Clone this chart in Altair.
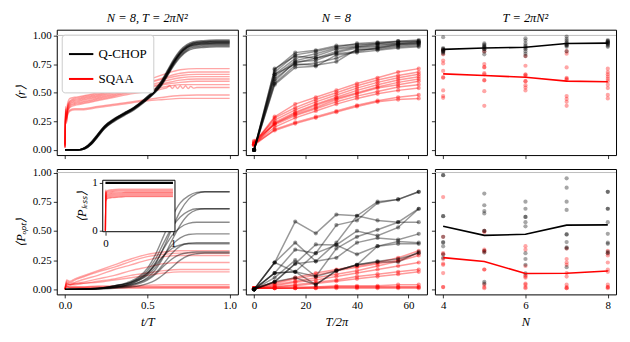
import altair as alt
import pandas as pd

# ======================= DATA =======================
METHODS = ["Q-CHOP", "SQAA"]
REF_LEVEL = [1.0]

# ---- column 1, top: <r> vs t/T (N = 8, T = 2 pi N^2) ----
T1_QCHOP = [0, 0.08, 0.12, 0.16, 0.20, 0.24, 0.30, 0.36, 0.42, 0.48, 0.54, 0.58, 0.62, 0.66, 0.70, 0.74, 0.78, 0.84, 0.92, 1.0]
R1_QCHOP = [
    [0, 0, 0.02, 0.07, 0.14, 0.21, 0.27, 0.32, 0.37, 0.44, 0.52, 0.59, 0.69, 0.79, 0.87, 0.92, 0.945, 0.955, 0.96, 0.96],
    [0, 0, 0.015, 0.06, 0.13, 0.20, 0.265, 0.315, 0.365, 0.43, 0.51, 0.58, 0.68, 0.78, 0.86, 0.91, 0.935, 0.945, 0.95, 0.95],
    [0, 0, 0.01, 0.05, 0.12, 0.19, 0.26, 0.31, 0.36, 0.42, 0.50, 0.56, 0.66, 0.76, 0.85, 0.905, 0.935, 0.945, 0.95, 0.95],
    [0, 0, 0.02, 0.065, 0.135, 0.205, 0.27, 0.32, 0.37, 0.435, 0.51, 0.575, 0.67, 0.77, 0.85, 0.90, 0.925, 0.935, 0.94, 0.94],
    [0, 0, 0.012, 0.055, 0.125, 0.195, 0.26, 0.31, 0.36, 0.425, 0.50, 0.565, 0.66, 0.76, 0.84, 0.895, 0.925, 0.935, 0.94, 0.94],
    [0, 0, 0.018, 0.06, 0.13, 0.20, 0.27, 0.32, 0.37, 0.43, 0.505, 0.57, 0.665, 0.765, 0.84, 0.89, 0.915, 0.925, 0.93, 0.93],
    [0, 0, 0.01, 0.05, 0.12, 0.19, 0.255, 0.305, 0.355, 0.42, 0.495, 0.56, 0.65, 0.75, 0.83, 0.88, 0.905, 0.915, 0.92, 0.92],
    [0, 0, 0.015, 0.06, 0.13, 0.20, 0.265, 0.315, 0.365, 0.43, 0.50, 0.56, 0.65, 0.745, 0.82, 0.87, 0.895, 0.905, 0.91, 0.91],
    [0, 0, 0.02, 0.07, 0.14, 0.21, 0.275, 0.325, 0.375, 0.44, 0.52, 0.585, 0.675, 0.77, 0.845, 0.895, 0.915, 0.925, 0.93, 0.93],
    [0, 0, 0.01, 0.05, 0.115, 0.185, 0.25, 0.30, 0.35, 0.415, 0.49, 0.55, 0.64, 0.735, 0.81, 0.86, 0.885, 0.895, 0.90, 0.90],
]
T1_SQAA = [0, 0.003, 0.008, 0.015, 0.03, 0.06, 0.1, 0.2, 0.3, 0.4, 0.5, 0.6, 0.7, 0.8, 0.9, 1.0]
R1_SQAA = [
    [0.03, 0.38, 0.30, 0.40, 0.45, 0.46, 0.47, 0.50, 0.54, 0.58, 0.61, 0.66, 0.70, 0.71, 0.71, 0.71],
    [0.05, 0.36, 0.28, 0.38, 0.43, 0.45, 0.46, 0.49, 0.52, 0.56, 0.59, 0.63, 0.67, 0.68, 0.68, 0.68],
    [0.02, 0.33, 0.27, 0.37, 0.42, 0.44, 0.45, 0.48, 0.51, 0.54, 0.58, 0.62, 0.65, 0.66, 0.66, 0.66],
    [0.04, 0.35, 0.29, 0.36, 0.41, 0.43, 0.44, 0.47, 0.50, 0.53, 0.56, 0.60, 0.63, 0.64, 0.64, 0.64],
    [0.03, 0.31, 0.26, 0.35, 0.40, 0.42, 0.43, 0.46, 0.49, 0.52, 0.55, 0.58, 0.61, 0.62, 0.62, 0.62],
    [0.05, 0.34, 0.28, 0.34, 0.39, 0.41, 0.42, 0.45, 0.48, 0.51, 0.54, 0.57, 0.59, 0.60, 0.60, 0.60],
    [0.02, 0.30, 0.25, 0.33, 0.38, 0.40, 0.41, 0.44, 0.47, 0.50, 0.52, 0.55, 0.57, 0.57, 0.57, 0.57],
    [0.03, 0.29, 0.24, 0.31, 0.35, 0.36, 0.36, 0.38, 0.40, 0.42, 0.44, 0.46, 0.475, 0.48, 0.48, 0.48],
    [0.02, 0.28, 0.23, 0.30, 0.34, 0.35, 0.35, 0.37, 0.39, 0.41, 0.43, 0.44, 0.45, 0.45, 0.45, 0.45],
]
T1_SQAA_WAVY = [0, 0.003, 0.008, 0.015, 0.03, 0.06, 0.1, 0.2, 0.3, 0.4, 0.5, 0.6, 0.62, 0.636, 0.652,
                0.668, 0.684, 0.70, 0.716, 0.732, 0.748, 0.764, 0.78, 0.80, 0.9, 1.0]
R1_SQAA_WAVY = [0.04, 0.32, 0.27, 0.33, 0.37, 0.39, 0.40, 0.43, 0.46, 0.49, 0.51, 0.535, 0.545, 0.56, 0.535,
                0.56, 0.535, 0.56, 0.535, 0.56, 0.535, 0.555, 0.54, 0.545, 0.545, 0.545]

# ---- column 1, bottom: <P_opt> vs t/T ----
T1B_QCHOP = [0, 0.1, 0.2, 0.3, 0.4, 0.45, 0.5, 0.55, 0.6, 0.65, 0.7, 0.75, 0.8, 0.85, 0.9, 1.0]
P1_QCHOP = [
    [0, 0.002, 0.01, 0.03, 0.07, 0.11, 0.18, 0.30, 0.46, 0.62, 0.74, 0.80, 0.83, 0.835, 0.835, 0.835],
    [0, 0.001, 0.005, 0.02, 0.05, 0.08, 0.13, 0.22, 0.36, 0.52, 0.67, 0.77, 0.82, 0.835, 0.835, 0.835],
    [0, 0.002, 0.008, 0.03, 0.06, 0.10, 0.16, 0.26, 0.40, 0.53, 0.62, 0.67, 0.69, 0.69, 0.69, 0.69],
    [0, 0.001, 0.004, 0.015, 0.04, 0.06, 0.10, 0.17, 0.28, 0.42, 0.55, 0.64, 0.68, 0.69, 0.69, 0.69],
    [0, 0.002, 0.01, 0.03, 0.06, 0.09, 0.14, 0.23, 0.35, 0.46, 0.53, 0.565, 0.575, 0.575, 0.575, 0.575],
    [0, 0.001, 0.006, 0.02, 0.05, 0.08, 0.12, 0.19, 0.29, 0.38, 0.44, 0.47, 0.475, 0.475, 0.475, 0.475],
    [0, 0.001, 0.005, 0.02, 0.04, 0.06, 0.09, 0.14, 0.22, 0.31, 0.37, 0.395, 0.40, 0.40, 0.40, 0.40],
    [0, 0.002, 0.01, 0.03, 0.06, 0.09, 0.14, 0.21, 0.29, 0.35, 0.38, 0.39, 0.39, 0.39, 0.39, 0.39],
    [0, 0.001, 0.005, 0.015, 0.03, 0.05, 0.08, 0.13, 0.20, 0.26, 0.30, 0.315, 0.32, 0.32, 0.32, 0.32],
    [0, 0.001, 0.004, 0.01, 0.02, 0.03, 0.05, 0.08, 0.13, 0.19, 0.25, 0.29, 0.305, 0.31, 0.31, 0.31],
]
T1B_SQAA = [0, 0.01, 0.03, 0.06, 0.1, 0.2, 0.3, 0.4, 0.5, 0.6, 0.7, 0.8, 0.9, 1.0]
P1_SQAA = [
    [0, 0.08, 0.07, 0.09, 0.11, 0.16, 0.21, 0.26, 0.30, 0.32, 0.33, 0.33, 0.33, 0.33],
    [0, 0.07, 0.06, 0.08, 0.10, 0.15, 0.19, 0.24, 0.28, 0.30, 0.31, 0.31, 0.31, 0.31],
    [0, 0.06, 0.05, 0.06, 0.08, 0.12, 0.17, 0.21, 0.25, 0.28, 0.29, 0.29, 0.29, 0.29],
    [0, 0.05, 0.04, 0.05, 0.06, 0.09, 0.12, 0.16, 0.19, 0.22, 0.23, 0.23, 0.23, 0.23],
    [0, 0.04, 0.04, 0.05, 0.05, 0.07, 0.09, 0.12, 0.14, 0.16, 0.17, 0.17, 0.17, 0.17],
    [0, 0.05, 0.04, 0.04, 0.05, 0.06, 0.08, 0.10, 0.12, 0.14, 0.15, 0.15, 0.15, 0.15],
    [0, 0.03, 0.02, 0.02, 0.02, 0.03, 0.03, 0.03, 0.035, 0.04, 0.04, 0.04, 0.04, 0.04],
    [0, 0.02, 0.015, 0.015, 0.015, 0.02, 0.02, 0.02, 0.02, 0.02, 0.02, 0.02, 0.02, 0.02],
    [0, 0.02, 0.01, 0.01, 0.01, 0.01, 0.01, 0.01, 0.01, 0.01, 0.01, 0.01, 0.01, 0.01],
    [0, 0.03, 0.02, 0.02, 0.02, 0.02, 0.02, 0.02, 0.02, 0.02, 0.02, 0.02, 0.02, 0.02],
]

# ---- inset: <P_less> vs t/T ----
TI_QCHOP = [0, 1.0]
PLESS_QCHOP = [[1.0, 1.0]]
TI_SQAA = [0, 0.005, 0.01, 0.02, 0.05, 0.1, 0.2, 0.3, 0.5, 0.7, 1.0]
PLESS_SQAA = [
    [0, 0.86, 0.80, 0.83, 0.85, 0.86, 0.87, 0.87, 0.87, 0.87, 0.87],
    [0, 0.84, 0.78, 0.81, 0.83, 0.84, 0.85, 0.85, 0.85, 0.85, 0.85],
    [0, 0.82, 0.76, 0.79, 0.81, 0.82, 0.83, 0.83, 0.83, 0.83, 0.83],
    [0, 0.80, 0.74, 0.77, 0.79, 0.80, 0.81, 0.81, 0.81, 0.81, 0.81],
    [0, 0.83, 0.72, 0.75, 0.77, 0.78, 0.79, 0.80, 0.80, 0.80, 0.80],
    [0, 0.78, 0.70, 0.73, 0.75, 0.76, 0.77, 0.78, 0.78, 0.78, 0.78],
    [0, 0.76, 0.68, 0.71, 0.73, 0.74, 0.75, 0.76, 0.76, 0.76, 0.76],
    [0, 0.80, 0.66, 0.69, 0.71, 0.72, 0.73, 0.74, 0.74, 0.74, 0.74],
    [0, 0.74, 0.64, 0.67, 0.69, 0.70, 0.71, 0.72, 0.72, 0.72, 0.72],
    [0, 0.72, 0.62, 0.66, 0.68, 0.69, 0.70, 0.71, 0.71, 0.71, 0.71],
]

# ---- column 2: vs T/2pi (N = 8) ----
T2 = [0, 8, 16, 24, 32, 40, 48, 56, 64]
R2_QCHOP = [
    [0, 0.70, 0.85, 0.87, 0.91, 0.92, 0.93, 0.95, 0.96],
    [0, 0.68, 0.83, 0.86, 0.90, 0.93, 0.94, 0.95, 0.95],
    [0, 0.66, 0.80, 0.84, 0.89, 0.91, 0.93, 0.94, 0.95],
    [0, 0.64, 0.78, 0.82, 0.88, 0.90, 0.92, 0.93, 0.94],
    [0, 0.62, 0.76, 0.80, 0.86, 0.90, 0.91, 0.93, 0.94],
    [0, 0.60, 0.77, 0.78, 0.85, 0.89, 0.90, 0.92, 0.93],
    [0, 0.58, 0.74, 0.76, 0.80, 0.87, 0.89, 0.91, 0.92],
    [0, 0.66, 0.75, 0.74, 0.77, 0.88, 0.88, 0.90, 0.91],
    [0, 0.71, 0.82, 0.80, 0.84, 0.86, 0.89, 0.92, 0.93],
    [0, 0.57, 0.72, 0.73, 0.83, 0.85, 0.87, 0.89, 0.90],
]
R2_SQAA = [
    [0.06, 0.29, 0.40, 0.46, 0.52, 0.58, 0.63, 0.68, 0.71],
    [0.05, 0.28, 0.37, 0.44, 0.50, 0.56, 0.61, 0.65, 0.68],
    [0.07, 0.26, 0.35, 0.42, 0.48, 0.54, 0.59, 0.63, 0.66],
    [0.05, 0.24, 0.33, 0.40, 0.46, 0.52, 0.57, 0.61, 0.64],
    [0.04, 0.23, 0.32, 0.39, 0.45, 0.50, 0.55, 0.59, 0.62],
    [0.06, 0.23, 0.31, 0.37, 0.44, 0.49, 0.54, 0.57, 0.60],
    [0.08, 0.22, 0.30, 0.36, 0.42, 0.47, 0.51, 0.55, 0.57],
    [0.05, 0.20, 0.28, 0.34, 0.40, 0.45, 0.49, 0.52, 0.54],
    [0.04, 0.18, 0.24, 0.29, 0.34, 0.39, 0.43, 0.46, 0.48],
    [0.05, 0.17, 0.23, 0.28, 0.33, 0.38, 0.42, 0.44, 0.45],
]
P2_QCHOP = [
    [0, 0.23, 0.58, 0.48, 0.64, 0.63, 0.75, 0.77, 0.835],
    [0, 0.14, 0.34, 0.31, 0.55, 0.59, 0.74, 0.77, 0.835],
    [0, 0.23, 0.40, 0.24, 0.40, 0.63, 0.59, 0.575, 0.69],
    [0, 0.065, 0.22, 0.385, 0.38, 0.50, 0.46, 0.53, 0.69],
    [0, 0.14, 0.15, 0.11, 0.35, 0.45, 0.51, 0.575, 0.575],
    [0, 0.065, 0.22, 0.24, 0.27, 0.40, 0.44, 0.425, 0.475],
    [0, 0.14, 0.15, 0.31, 0.38, 0.30, 0.37, 0.41, 0.40],
    [0, 0.10, 0.25, 0.11, 0.16, 0.21, 0.37, 0.39, 0.39],
    [0, 0.23, 0.15, 0.04, 0.16, 0.21, 0.235, 0.235, 0.32],
    [0, 0.065, 0.10, 0.04, 0.16, 0.21, 0.24, 0.26, 0.31],
]
P2_SQAA = [
    [0.01, 0.06, 0.10, 0.14, 0.17, 0.20, 0.23, 0.27, 0.33],
    [0.01, 0.05, 0.09, 0.12, 0.16, 0.19, 0.22, 0.25, 0.31],
    [0.01, 0.04, 0.07, 0.10, 0.13, 0.16, 0.20, 0.24, 0.29],
    [0.01, 0.03, 0.06, 0.08, 0.11, 0.14, 0.17, 0.20, 0.23],
    [0.01, 0.02, 0.04, 0.06, 0.08, 0.11, 0.13, 0.15, 0.17],
    [0.01, 0.02, 0.03, 0.05, 0.07, 0.09, 0.11, 0.13, 0.15],
    [0.01, 0.01, 0.02, 0.02, 0.03, 0.03, 0.03, 0.04, 0.04],
    [0.01, 0.01, 0.01, 0.02, 0.02, 0.02, 0.02, 0.02, 0.02],
    [0.01, 0.01, 0.01, 0.01, 0.01, 0.01, 0.01, 0.01, 0.01],
    [0.01, 0.01, 0.01, 0.01, 0.02, 0.02, 0.02, 0.02, 0.02],
]

# ---- column 3: vs N (T = 2 pi N^2) ----
N3 = [4, 5, 6, 7, 8]
R3_QCHOP = [
    [0.985, 0.89, 0.88, 0.88, 0.87, 0.87, 0.86, 0.85, 0.84, 0.86],
    [0.93, 0.92, 0.91, 0.90, 0.90, 0.89, 0.88, 0.88, 0.86, 0.835],
    [0.975, 0.955, 0.93, 0.91, 0.90, 0.89, 0.88, 0.86, 0.84, 0.82],
    [0.99, 0.97, 0.955, 0.94, 0.93, 0.92, 0.915, 0.91, 0.90, 0.86],
    [0.96, 0.95, 0.95, 0.94, 0.94, 0.93, 0.92, 0.91, 0.93, 0.90],
]
R3_SQAA = [
    [0.87, 0.835, 0.78, 0.755, 0.69, 0.635, 0.63, 0.52, 0.47, 0.455],
    [0.86, 0.75, 0.725, 0.72, 0.67, 0.66, 0.607, 0.61, 0.513, 0.385],
    [0.82, 0.735, 0.66, 0.655, 0.645, 0.60, 0.565, 0.545, 0.52, 0.60],
    [0.863, 0.84, 0.72, 0.63, 0.62, 0.615, 0.47, 0.445, 0.42, 0.385],
    [0.71, 0.68, 0.66, 0.64, 0.62, 0.60, 0.57, 0.54, 0.48, 0.45],
]
P3_QCHOP = [
    [0.977, 0.977, 0.626, 0.626, 0.45, 0.405, 0.40, 0.368, 0.30, 0.27],
    [0.82, 0.72, 0.67, 0.65, 0.50, 0.50, 0.33, 0.315, 0.065, 0.05],
    [0.75, 0.69, 0.62, 0.62, 0.575, 0.54, 0.31, 0.26, 0.21, 0.136],
    [0.95, 0.87, 0.75, 0.68, 0.47, 0.47, 0.405, 0.36, 0.35, 0.19],
    [0.835, 0.835, 0.69, 0.69, 0.575, 0.475, 0.40, 0.39, 0.32, 0.31],
]
P3_SQAA = [
    [0.79, 0.45, 0.31, 0.30, 0.26, 0.22, 0.21, 0.14, 0.02, 0.02],
    [0.50, 0.49, 0.34, 0.33, 0.32, 0.17, 0.17, 0.04, 0.02, 0.01],
    [0.37, 0.34, 0.20, 0.12, 0.10, 0.11, 0.05, 0.04, 0.02, 0.01],
    [0.35, 0.26, 0.23, 0.21, 0.14, 0.11, 0.04, 0.02, 0.01, 0.01],
    [0.33, 0.31, 0.29, 0.23, 0.17, 0.15, 0.04, 0.02, 0.01, 0.02],
]

Y_TICKS = [0, 0.25, 0.5, 0.75, 1.0]
X1_TICKS = [0, 0.5, 1.0]
X2_TICKS = [0, 20, 40, 60]
X3_TICKS = [4, 6, 8]
INSET_TICKS = [0, 1]
TITLES = ["N = 8, T = 2πN²", "N = 8", "T = 2πN²"]

# ======================= STYLE / LAYOUT =======================
SERIF = "Liberation Serif"
W, H = 182, 126
BLACK, RED, GREY = "#000000", "#ff0000", "#bdbdbd"
INSET_XLIM, INSET_XRANGE = [-0.04, 1.03], [46.2, 118.8]
INSET_YLIM, INSET_YRANGE = [-0.02, 1.055], [63.0, 11.3]


def curve_df(t, curves, method, tag):
    rows = []
    for i, ys in enumerate(curves):
        for a, b in zip(t, ys):
            rows.append({"t": a, "v": b, "run": f"{tag}{i}", "method": method})
    return pd.DataFrame(rows)


def scatter_df(ns, groups, method):
    rows = []
    for n, vals in zip(ns, groups):
        for v in vals:
            rows.append({"t": n, "v": v, "method": method})
    return pd.DataFrame(rows)


color_scale = alt.Scale(domain=METHODS, range=[BLACK, RED])
YS_TOP = alt.Scale(domain=[-0.045, 1.05], nice=False, zero=False)
YS_BOT = alt.Scale(domain=[-0.043, 1.03], nice=False, zero=False)
XS = [alt.Scale(domain=[-0.05, 1.05], nice=False, zero=False),
      alt.Scale(domain=[-3.2, 67.2], nice=False, zero=False),
      alt.Scale(domain=[3.8, 8.2], nice=False, zero=False)]
XT = [(X1_TICKS, ".1f", "t/T"), (X2_TICKS, "d", "T/2π"), (X3_TICKS, "d", "N")]


def x_axis(col, bottom):
    vals, fmt, title = XT[col]
    if bottom:
        return alt.Axis(values=vals, format=fmt, title=title)
    return alt.Axis(values=vals, labels=False, title=None)


def y_axis(col, title):
    if col == 0:
        return alt.Axis(values=Y_TICKS, format=".2f", title=title)
    return alt.Axis(values=Y_TICKS, labels=False, title=None)


def ref_rule(ys, ya):
    return alt.Chart(pd.DataFrame({"v": REF_LEVEL})).mark_rule(color=GREY, strokeWidth=1).encode(
        y=alt.Y("v:Q", scale=ys, axis=ya))


legend = alt.Legend(title=None, orient="top-left", offset=5, symbolType="stroke", symbolStrokeWidth=2,
                    symbolSize=600, symbolOpacity=1, labelFont=SERIF, labelFontSize=13,
                    fillColor="white", strokeColor="#cccccc", padding=6, cornerRadius=3, rowPadding=4)


def col1_layers(df_b, df_r, ys, ya, xa, with_legend, black_opacity):
    enc = dict(x=alt.X("t:Q", scale=XS[0], axis=xa), y=alt.Y("v:Q", scale=ys, axis=ya), detail="run:N")
    if with_legend:
        col = alt.Color("method:N", scale=color_scale, legend=legend)
        red = alt.Chart(df_r).mark_line(strokeWidth=1.4, opacity=0.35, interpolate="monotone").encode(color=col, **enc)
        blk = alt.Chart(df_b).mark_line(strokeWidth=1.4, opacity=black_opacity, interpolate="monotone").encode(color=col, **enc)
    else:
        red = alt.Chart(df_r).mark_line(color=RED, strokeWidth=1.4, opacity=0.35, interpolate="monotone").encode(**enc)
        blk = alt.Chart(df_b).mark_line(color=BLACK, strokeWidth=1.4, opacity=black_opacity, interpolate="monotone").encode(**enc)
    return alt.layer(ref_rule(ys, ya), red, blk)


def col2_panel(df_b, df_r, ys, ya, xa):
    enc = dict(x=alt.X("t:Q", scale=XS[1], axis=xa), y=alt.Y("v:Q", scale=ys, axis=ya))
    layers = [ref_rule(ys, ya)]
    for df, c in ((df_r, RED), (df_b, BLACK)):
        layers.append(alt.Chart(df).mark_line(color=c, strokeWidth=1.5, opacity=0.4).encode(detail="run:N", **enc))
        layers.append(alt.Chart(df).mark_circle(color=c, size=18, opacity=0.4).encode(**enc))
    return alt.layer(*layers)


def col3_panel(df_b, df_r, ys, ya, xa):
    x = alt.X("t:Q", scale=XS[2], axis=xa)
    layers = [ref_rule(ys, ya)]
    for df, c in ((df_r, RED), (df_b, BLACK)):
        layers.append(alt.Chart(df).mark_circle(color=c, size=18, opacity=0.35).encode(
            x=x, y=alt.Y("v:Q", scale=ys, axis=ya)))
    for df, c in ((df_r, RED), (df_b, BLACK)):
        layers.append(alt.Chart(df).mark_line(color=c, strokeWidth=1.6).encode(
            x=x, y=alt.Y("mean(v):Q", scale=ys, axis=ya)))
    return alt.layer(*layers)


# ---- data frames ----
d1t_b = curve_df(T1_QCHOP, R1_QCHOP, "Q-CHOP", "b")
d1t_r = pd.concat([curve_df(T1_SQAA, R1_SQAA, "SQAA", "r"),
                   curve_df(T1_SQAA_WAVY, [R1_SQAA_WAVY], "SQAA", "w")], ignore_index=True)
d1b_b = curve_df(T1B_QCHOP, P1_QCHOP, "Q-CHOP", "b")
d1b_r = curve_df(T1B_SQAA, P1_SQAA, "SQAA", "r")
di_b = curve_df(TI_QCHOP, PLESS_QCHOP, "Q-CHOP", "b")
di_r = curve_df(TI_SQAA, PLESS_SQAA, "SQAA", "r")
d2t_b = curve_df(T2, R2_QCHOP, "Q-CHOP", "b")
d2t_r = curve_df(T2, R2_SQAA, "SQAA", "r")
d2b_b = curve_df(T2, P2_QCHOP, "Q-CHOP", "b")
d2b_r = curve_df(T2, P2_SQAA, "SQAA", "r")
d3t_b = scatter_df(N3, R3_QCHOP, "Q-CHOP")
d3t_r = scatter_df(N3, R3_SQAA, "SQAA")
d3b_b = scatter_df(N3, P3_QCHOP, "Q-CHOP")
d3b_r = scatter_df(N3, P3_SQAA, "SQAA")

# ---- top row ----
p1 = col1_layers(d1t_b, d1t_r, YS_TOP, y_axis(0, "⟨r⟩"), x_axis(0, False), True, 0.5).properties(
    width=W, height=H, title=TITLES[0])
p2 = col2_panel(d2t_b, d2t_r, YS_TOP, y_axis(1, None), x_axis(1, False)).properties(
    width=W, height=H, title=TITLES[1])
p3 = col3_panel(d3t_b, d3t_r, YS_TOP, y_axis(2, None), x_axis(2, False)).properties(
    width=W, height=H, title=TITLES[2])

# ---- bottom row ----
main4 = col1_layers(d1b_b, d1b_r, YS_BOT, y_axis(0, "⟨Pₒₚₜ⟩"), x_axis(0, True), False, 0.45)
ixs = alt.Scale(domain=INSET_XLIM, range=INSET_XRANGE, nice=False, zero=False)
iys = alt.Scale(domain=INSET_YLIM, range=INSET_YRANGE, nice=False, zero=False)
iax = alt.Axis(values=INSET_TICKS, format="d", orient="bottom", offset=-(H - INSET_YRANGE[0]), title=None)
iay = alt.Axis(values=INSET_TICKS, format="d", orient="left", offset=-INSET_XRANGE[0],
               title="⟨Pₗₑₛₛ⟩", titlePadding=3)
box_df = pd.DataFrame({"x0": [INSET_XLIM[0]], "x1": [INSET_XLIM[1]],
                       "y0": [INSET_YLIM[0]], "y1": [INSET_YLIM[1]]})
box = alt.Chart(box_df).mark_rect(fill="white", stroke="black", strokeWidth=1).encode(
    x=alt.X("x0:Q", scale=ixs, axis=iax), x2="x1:Q",
    y=alt.Y("y0:Q", scale=iys, axis=iay), y2="y1:Q")
ienc = dict(x=alt.X("t:Q", scale=ixs, axis=iax), y=alt.Y("v:Q", scale=iys, axis=iay), detail="run:N")
inset_r = alt.Chart(di_r).mark_line(color=RED, strokeWidth=1.2, opacity=0.35, interpolate="monotone").encode(**ienc)
inset_b = alt.Chart(di_b).mark_line(color=BLACK, strokeWidth=2.2).encode(**ienc)
inset = alt.layer(box, inset_r, inset_b)
p4 = alt.layer(main4, inset).resolve_scale(x="independent", y="independent").properties(width=W, height=H)
p5 = col2_panel(d2b_b, d2b_r, YS_BOT, y_axis(1, None), x_axis(1, True)).properties(width=W, height=H)
p6 = col3_panel(d3b_b, d3b_r, YS_BOT, y_axis(2, None), x_axis(2, True)).properties(width=W, height=H)

row1 = alt.hconcat(p1, p2, p3, spacing=8, bounds="flush").resolve_scale(color="independent").resolve_legend(color="independent")
row2 = alt.hconcat(p4, p5, p6, spacing=8, bounds="flush")
chart = alt.vconcat(row1, row2, spacing=6).resolve_scale(color="independent").resolve_legend(
    color="independent").properties(padding={"left": 5, "top": 2, "right": 5, "bottom": 5}, background="white")

chart = chart.configure_view(stroke="black", strokeWidth=1).configure_axis(
    domain=False, grid=False, tickColor="black", tickSize=3.5, tickWidth=0.8, labelFont=SERIF,
    labelFontSize=11, labelColor="black", labelPadding=2, labelFlush=False, labelOverlap=False,
    titleFont=SERIF, titleFontSize=12.5, titleFontStyle="italic", titleFontWeight="normal",
    titleColor="black", titlePadding=5).configure_title(
    font=SERIF, fontSize=12.5, fontStyle="italic", fontWeight="normal", color="black", offset=5)

chart.save("out.html", embed_options={"renderer": "svg", "actions": False})
